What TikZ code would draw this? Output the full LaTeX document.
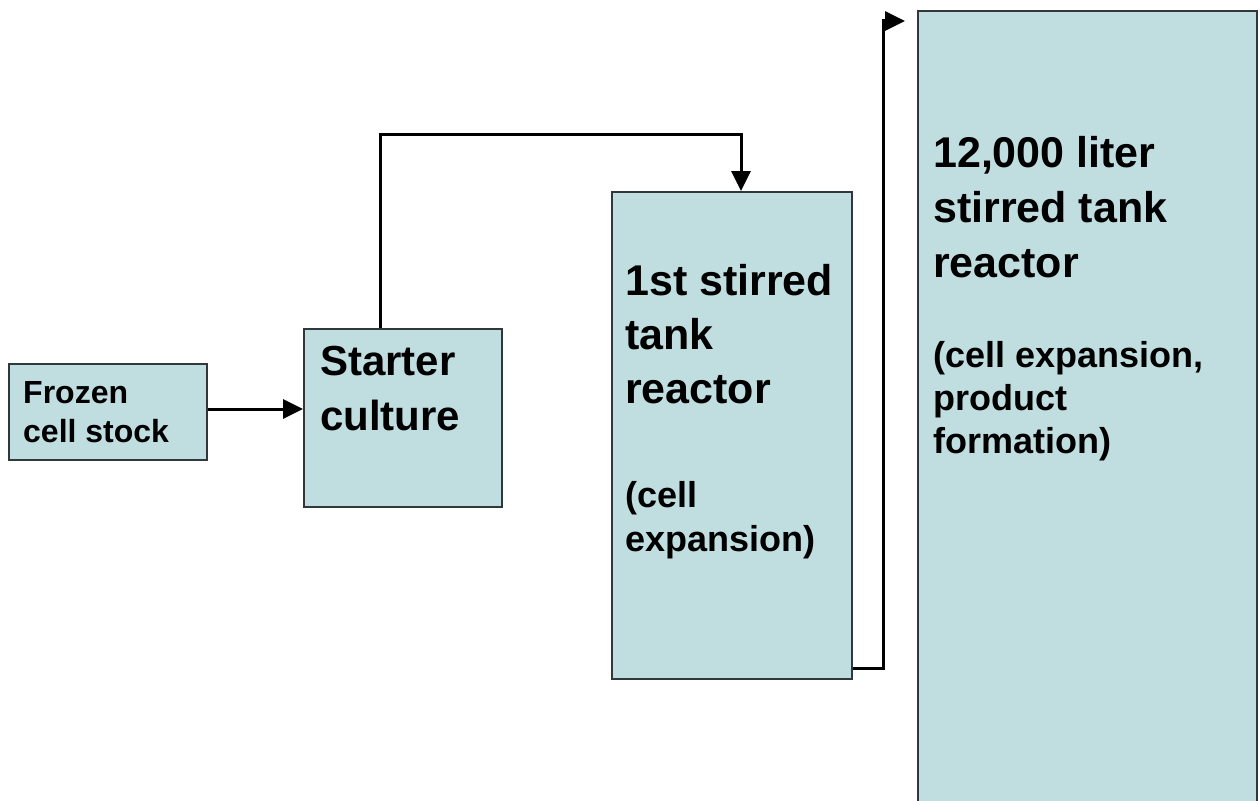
\documentclass[tikz,border=0pt]{standalone}
\usepackage{fontspec}
\setmainfont{Liberation Sans}
\usetikzlibrary{arrows.meta}
\definecolor{boxfill}{RGB}{192,222,224}
\definecolor{boxline}{RGB}{50,55,60}
\tikzset{
  boxnode/.style={draw=boxline, line width=2pt, fill=boxfill, anchor=north west, inner sep=0pt},
  txt/.style={anchor=base west, align=left, inner sep=0pt, text=black},
  conn/.style={line width=3pt, -{Triangle[length=20pt,width=19pt]}}
}
\begin{document}
\begin{tikzpicture}[x=1pt,y=-1pt]
\clip (0,0) rectangle (1260,800);
\fill[white] (0,0) rectangle (1260,800);
% boxes
\node[boxnode, minimum width=198pt, minimum height=96pt] (frozen) at (8,363) {};
\node[boxnode, minimum width=198pt, minimum height=178pt] (starter) at (303,328) {};
\node[boxnode, minimum width=240pt, minimum height=487pt] (first) at (611,191) {};
\node[boxnode, minimum width=339pt, minimum height=820pt] (big) at (917,10) {};
% texts (anchored at the baseline of the last line)
\node[txt, font=\bfseries\fontsize{32}{39}\selectfont] (frozenT) at (23,442) {Frozen\\cell stock};
\node[txt, font=\bfseries\fontsize{42}{55}\selectfont] (starterT) at (320,430) {Starter\\culture};
\node[txt, font=\bfseries\fontsize{43}{54}\selectfont] (firstT) at (625,403) {1st stirred\\tank\\reactor};
\node[txt, font=\bfseries\fontsize{36}{44}\selectfont] (firstS) at (625,551) {(cell\\expansion)};
\node[txt, font=\bfseries\fontsize{43}{55}\selectfont] (bigT) at (933,277) {12,000 liter\\stirred tank\\reactor};
\node[txt, font=\bfseries\fontsize{36}{43}\selectfont] (bigS) at (933,453) {(cell expansion,\\product\\formation)};
% connectors
\coordinate (up1) at (380,134);
\coordinate (up2) at (741,134);
\coordinate (c1) at (883,668);
\coordinate (c2) at (883,21);
\coordinate (bigin) at (905,21);
\draw[conn] (frozen.east |- 0,409) -- (starter.west |- 0,409);
\draw[conn] (starter.north -| up1) -- (up1) -- (up2) -- (first.north -| up2);
\draw[conn] (first.east |- c1) -- (c1) -- (c2) -- (bigin);
\end{tikzpicture}
\end{document}
